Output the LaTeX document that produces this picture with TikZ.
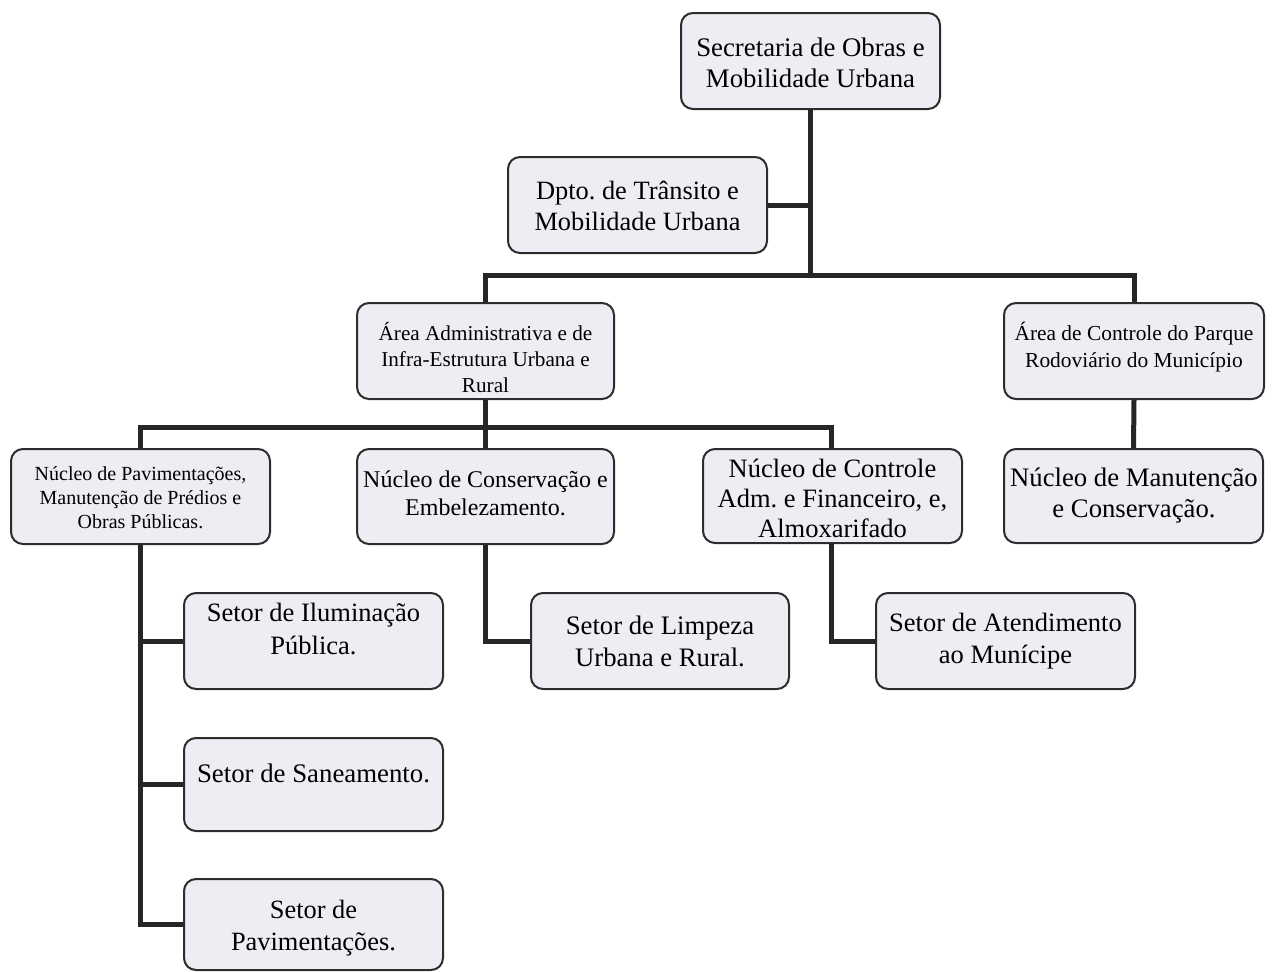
\documentclass[tikz,border=0pt]{standalone}
\usepackage{fontspec}
\setmainfont{Liberation Serif}
\frenchspacing
\definecolor{boxfill}{RGB}{237,237,244}
\definecolor{boxline}{RGB}{45,45,45}
\definecolor{conncol}{RGB}{38,38,38}
\newcommand{\fs}[2]{\fontsize{#1}{#2}\selectfont}
\begin{document}
\begin{tikzpicture}[x=1pt,y=-1pt,
  box/.style={draw=boxline, line width=2pt, fill=boxfill, rounded corners=12pt, inner sep=0pt},
  txt/.style={align=center, inner sep=0pt, text=black},
  conn/.style={draw=conncol, line width=5pt}]
\useasboundingbox (0,0) rectangle (1272,972);
\coordinate (b1) at (810.5,275);
\coordinate (b2) at (485.5,427);
% boxes
\node[box, minimum width=259pt, minimum height=96pt] (sec) at (810.5,61) {};
\node[box, minimum width=259pt, minimum height=96pt] (dpto) at (637.5,205) {};
\node[box, minimum width=257pt, minimum height=96pt] (adm) at (485.5,351) {};
\node[box, minimum width=260pt, minimum height=96pt] (ctl) at (1134,351) {};
\node[box, minimum width=259pt, minimum height=95pt] (npav) at (140.5,496.5) {};
\node[box, minimum width=257pt, minimum height=95pt] (ncon) at (485.5,496.5) {};
\node[box, minimum width=259pt, minimum height=94pt] (nctl) at (832.5,496) {};
\node[box, minimum width=259pt, minimum height=94pt] (nman) at (1133.5,496) {};
\node[box, minimum width=259pt, minimum height=96pt] (ilum) at (313.5,641) {};
\node[box, minimum width=258pt, minimum height=96pt] (limp) at (660,641) {};
\node[box, minimum width=259pt, minimum height=96pt] (aten) at (1005.5,641) {};
\node[box, minimum width=259pt, minimum height=93pt] (sane) at (313.5,784.5) {};
\node[box, minimum width=259pt, minimum height=91pt] (pav) at (313.5,924.5) {};
% connectors
\draw[conn] (sec.south) -- (b1);
\draw[conn] (dpto.east) -- (dpto.east -| sec.south);
\draw[conn] (adm.north) |- (b1) -| (ctl.north);
\draw[conn] (adm.south) -- (ncon.north);
\draw[conn] (npav.north) |- (b2) -| (nctl.north -| 831,0);
\draw[conn] (ctl.south) -- (nman.north);
\draw[conn] (npav.south) |- (pav.west);
\draw[conn] (ilum.west) -- (ilum.west -| npav.south);
\draw[conn] (sane.west) -- (sane.west -| npav.south);
\draw[conn] (ncon.south) |- (limp.west);
\draw[conn] (nctl.south -| 831,0) |- (aten.west);
% texts
\node[txt, font=\fs{26.8}{31}] (sect) at (810.5,63) {Secretaria de Obras e\\Mobilidade Urbana};
\node[txt, font=\fs{26.4}{31}] (dptot) at (637.5,206) {Dpto. de Trânsito e\\Mobilidade Urbana};
\node[txt, font=\fs{21.2}{26}] (admt) at (485.5,357) {Área Administrativa e de\\Infra-Estrutura Urbana e\\Rural};
\node[txt, font=\fs{21.4}{27}] (ctlt) at (1134,347) {Área de Controle do Parque\\Rodoviário do Município};
\node[txt, font=\fs{20}{24}] (npavt) at (140.5,498) {Núcleo de Pavimentações,\\Manutenção de Prédios e\\Obras Públicas.};
\node[txt, font=\fs{24}{28}] (ncont) at (485.5,493) {Núcleo de Conservação e\\Embelezamento.};
\node[txt, font=\fs{26.5}{30}] (nctlt) at (832.5,498) {Núcleo de Controle\\Adm. e Financeiro, e,\\Almoxarifado};
\node[txt, font=\fs{26.7}{31}] (nmant) at (1134,496) {Núcleo de Manutenção\\e Conservação.};
\node[txt, font=\fs{26.5}{33}] (ilumt) at (313.5,629) {Setor de Iluminação\\Pública.};
\node[txt, font=\fs{26.7}{32}] (limpt) at (660,641) {Setor de Limpeza\\Urbana e Rural.};
\node[txt, font=\fs{26.5}{32}] (atent) at (1005.5,641) {Setor de Atendimento\\ao Munícipe};
\node[txt, font=\fs{26.8}{32}] (sanet) at (313.5,773) {Setor de Saneamento.};
\node[txt, font=\fs{26.4}{32}] (pavt) at (313.5,928) {Setor de\\Pavimentações.};
\end{tikzpicture}
\end{document}
